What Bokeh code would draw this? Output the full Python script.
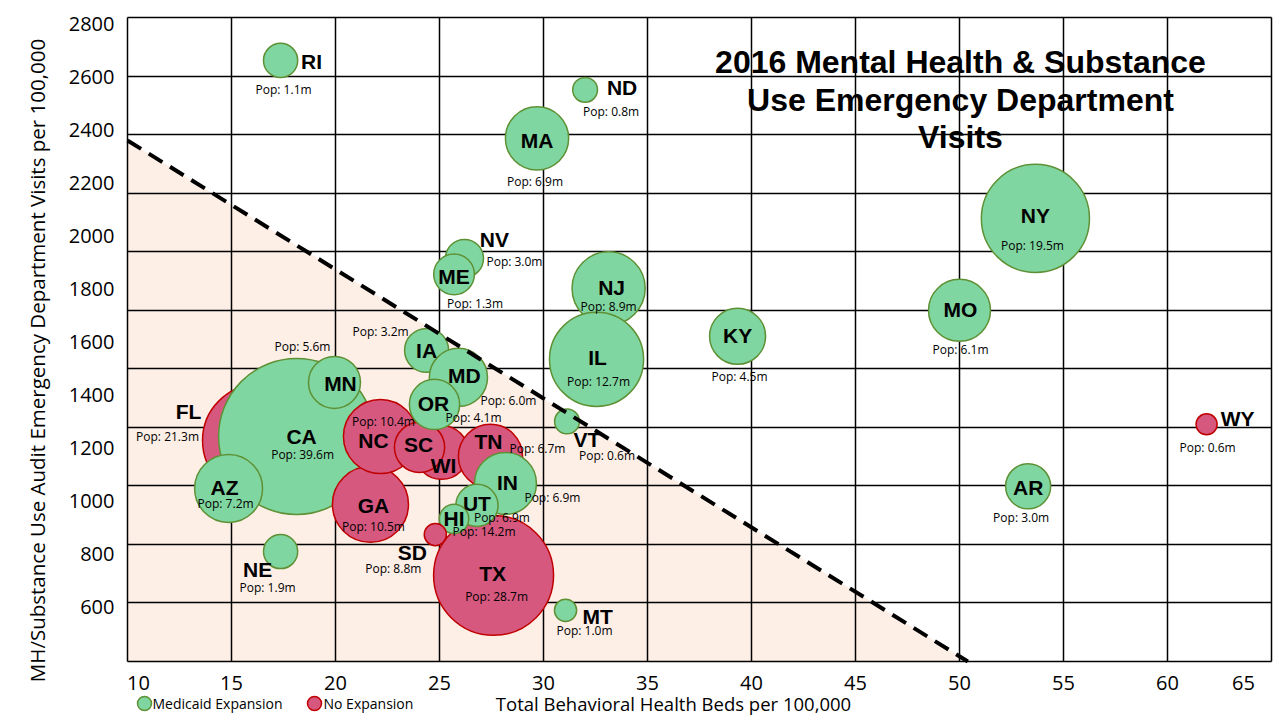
import math
from bokeh.plotting import figure
from bokeh.models import ColumnDataSource, Range1d, FixedTicker, Grid, Label
from bokeh.core.properties import value
from bokeh.embed import file_html
from bokeh.resources import INLINE

# ---------------- data ----------------
states = ["RI", "ND", "MA", "NY", "NV", "ME", "NJ", "IL", "MO", "KY", "VT", "WY",
          "AR", "MT", "NE", "FL", "CA", "MN", "AZ", "GA", "NC", "WI", "SC", "IA",
          "MD", "OR", "TX", "TN", "IN", "UT", "HI", "SD"]
beds = [17.36, 32.0, 29.69, 53.65, 26.2, 25.7, 33.13, 32.55, 50.0, 39.33, 31.13, 61.88,
        53.3, 31.06, 17.36, 16.3, 18.13, 19.95, 14.86, 21.68, 22.16, 25.1, 24.04, 24.38,
        25.91, 24.76, 27.6, 27.45, 28.17, 26.8, 25.7, 24.8]
visits = [2664, 2553, 2370, 2068, 1917, 1857, 1804, 1536, 1721, 1623, 1302, 1291,
          1057, 589, 811, 1230, 1245, 1449, 1049, 989, 1245, 1185, 1204, 1570,
          1468, 1366, 721, 1170, 1068, 985, 934, 875]
# population (millions) as shown by bubble area
bubble_pop = [1.9, 1.0, 6.5, 19.0, 2.35, 2.7, 8.7, 14.4, 6.25, 5.1, 1.0, 0.72,
              3.3, 0.8, 1.9, 20.4, 39.6, 4.4, 7.5, 9.4, 8.9, 4.7, 4.1, 3.15,
              5.5, 4.1, 23.4, 6.7, 6.25, 2.9, 1.4, 0.8]
expansion = [True, True, True, True, True, True, True, True, True, True, True, False,
             True, True, True, False, True, True, True, False, False, False, False, True,
             True, True, False, False, True, True, True, False]
pop_labels = ["Pop: 1.1m", "Pop: 0.8m", "Pop: 6.9m", "Pop: 19.5m", "Pop: 3.0m", "Pop: 1.3m",
              "Pop: 8.9m", "Pop: 12.7m", "Pop: 6.1m", "Pop: 4.5m", "Pop: 0.6m", "Pop: 0.6m",
              "Pop: 3.0m", "Pop: 1.0m", "Pop: 1.9m", "Pop: 21.3m", "Pop: 39.6m", "Pop: 5.6m",
              "Pop: 7.2m", "Pop: 10.5m", "Pop: 10.4m", "", "", "Pop: 3.2m",
              "Pop: 6.0m", "Pop: 4.1m", "Pop: 28.7m", "Pop: 6.7m", "Pop: 6.9m", "Pop: 6.9m",
              "Pop: 14.2m", "Pop: 8.8m"]

x_ticks = [10, 15, 20, 25, 30, 35, 40, 45, 50, 55, 60, 65]
y_ticks = [600, 800, 1000, 1200, 1400, 1600, 1800, 2000, 2200, 2400, 2600, 2800]
trend_x = [10, 50.4]
trend_y = [2362, 396]

title_lines = ["2016 Mental Health & Substance", "Use Emergency Department", "Visits"]
x_title = "Total Behavioral Health Beds per 100,000"
y_title = "MH/Substance Use Audit Emergency Department Visits per 100,000"
legend_labels = ["Medicaid Expansion", "No Expansion"]

# ---------------- layout / style ----------------
GREEN, GREEN_LINE = "#80d6a0", "#5e9135"
RED, RED_LINE = "#d6587f", "#c00000"
SHADE = "#fdeee6"
FONT = "Open Sans"
PX_PER_SQRT_M = 12.4  # bubble radius in px per sqrt(million)

W, H = 1280, 720
FRAME_LEFT = 120              # canvas px where the drawing frame starts
PLOT_LEFT, PLOT_RIGHT = 127, 1271
PLOT_TOP, PLOT_BOTTOM = 17, 661
x_lo, x_hi = x_ticks[0], x_ticks[-1]
y_lo, y_hi = 396, 2826        # value range of the plotted area (label scale)

kx = (x_hi - x_lo) / (PLOT_RIGHT - PLOT_LEFT)
ky = (y_hi - y_lo) / (PLOT_BOTTOM - PLOT_TOP)


def px_to_x(px):
    return x_lo + (px - PLOT_LEFT) * kx


def py_to_y(py, lo=y_lo, hi=y_hi):
    k = (hi - lo) / (PLOT_BOTTOM - PLOT_TOP)
    return hi - (py - PLOT_TOP) * k


# label offsets in px (state name, population text) relative to bubble centre
state_off = {"RI": (31, 1), "ND": (37, -2), "MA": (0, 2), "NY": (0, -3), "NV": (30, -19),
             "ME": (0, 2), "NJ": (3, -1), "IL": (1, -2), "MO": (1, -1), "KY": (0, -1),
             "VT": (20, 18), "WY": (31, -6), "AR": (0, 1), "MT": (32, 6), "NE": (-23, 18),
             "FL": (-70, -29), "CA": (5, 0), "MN": (6, 1), "AZ": (-4, -1), "GA": (3, 1),
             "NC": (-7, 4), "WI": (2, 13), "SC": (-1, -3), "IA": (0, 0), "MD": (6, -2),
             "OR": (-1, -1), "TX": (-1, -2), "TN": (-2, -15), "IN": (2, -1), "UT": (0, -2),
             "HI": (0, 0), "SD": (-23, 18)}
pop_off = {"RI": (3, 29), "ND": (26, 22), "MA": (-2, 43), "NY": (-3, 27), "NV": (50, 3),
           "ME": (21, 29), "NJ": (0, 18), "IL": (2, 22), "MO": (1, 39), "KY": (2, 40),
           "VT": (40, 34), "WY": (1, 23), "AR": (-7, 31), "MT": (19, 20), "NE": (-13, 36),
           "FL": (-91, -4), "CA": (6, 18), "MN": (-32, -36), "AZ": (-3, 15), "GA": (3, 22),
           "NC": (3, -15), "WI": (0, 0), "SC": (0, 0), "IA": (-46, -19), "MD": (50, 23),
           "OR": (39, 13), "TX": (3, 21), "TN": (47, -8), "IN": (47, 14), "UT": (25, 12),
           "HI": (30, 13), "SD": (-42, 34)}

src = ColumnDataSource(dict(
    x=beds, y=visits, state=states, pop=pop_labels,
    size=[2 * PX_PER_SQRT_M * math.sqrt(v) for v in bubble_pop],
    fill=[GREEN if e else RED for e in expansion],
    line=[GREEN_LINE if e else RED_LINE for e in expansion],
    sdx=[state_off[s][0] for s in states], sdy=[state_off[s][1] for s in states],
    pdx=[pop_off[s][0] for s in states], pdy=[pop_off[s][1] for s in states],
))

p = figure(width=W, height=H, output_backend="svg", toolbar_location=None,
           x_range=Range1d(px_to_x(FRAME_LEFT), px_to_x(W)),
           y_range=Range1d(py_to_y(H), py_to_y(0)),
           x_axis_location=None,
           min_border_left=FRAME_LEFT, min_border_right=0, min_border_top=0, min_border_bottom=0,
           background_fill_color="white", border_fill_color="white")
g_lo, g_hi = y_ticks[0], y_ticks[-1]
p.extra_y_ranges = {"grid": Range1d(py_to_y(H, g_lo, g_hi), py_to_y(0, g_lo, g_hi))}
p.outline_line_color = None

# shaded region under the trend line
p.varea(x=trend_x, y1=[y_lo, y_lo], y2=trend_y, fill_color=SHADE, level="image")

# grids (bounded to the plot area)
p.xgrid.ticker = FixedTicker(ticks=x_ticks)
p.xgrid.grid_line_color = "black"
p.xgrid.grid_line_width = 1.5
p.xgrid.cross_bounds = (y_lo, y_hi)
p.ygrid.visible = False
yg = Grid(dimension=1, ticker=FixedTicker(ticks=y_ticks), y_range_name="grid",
          cross_bounds=(x_lo, x_hi), grid_line_color="black", grid_line_width=1.5)
p.add_layout(yg)

# y axis (its line is drawn by the grid at x = 10)
ax = p.yaxis[0]
ax.ticker = FixedTicker(ticks=y_ticks)
ax.bounds = (py_to_y(H), py_to_y(8))
ax.major_tick_in = 0
ax.major_tick_out = 0
ax.minor_tick_line_color = None
ax.major_tick_line_color = None
ax.axis_line_color = None
ax.major_label_text_font = FONT
ax.major_label_text_font_size = "20px"
ax.major_label_text_color = "black"
ax.major_label_standoff = 6
ax.axis_label = y_title
ax.axis_label_text_font = FONT
ax.axis_label_text_font_style = "normal"
ax.axis_label_text_font_size = "20.5px"
ax.axis_label_text_color = "black"
ax.axis_label_standoff = 15

# bubbles
p.scatter("x", "y", source=src, size="size", fill_color="fill", line_color="line",
          line_width=1.5, fill_alpha=1.0)

# trend line
p.line(trend_x, trend_y, line_color="black", line_width=4, line_dash="16 9")

# bubble labels
p.text("x", "y", text="state", source=src, x_offset="sdx", y_offset="sdy",
       text_font=value("Liberation Sans"), text_font_style="bold", text_font_size="21px",
       text_align="center", text_baseline="middle", text_color="black")
p.text("x", "y", text="pop", source=src, x_offset="pdx", y_offset="pdy",
       text_font=value(FONT), text_font_size="12px",
       text_align="center", text_baseline="middle", text_color="black")

# x tick labels (edge labels pulled inward as in the reference)
xt_off = [11] + [0] * (len(x_ticks) - 2) + [-28]
p.text(x=x_ticks, y=[y_lo] * len(x_ticks), text=[str(t) for t in x_ticks],
       x_offset=xt_off, y_offset=21, text_font=value(FONT), text_font_size="20px",
       text_align="center", text_baseline="middle", text_color="black")

# x axis title
p.add_layout(Label(x=px_to_x(673), y=py_to_y(703), text=x_title, text_font=FONT,
                   text_font_size="18.5px", text_align="center", text_baseline="middle",
                   text_color="black"))

# chart title
for line, py in zip(title_lines, [61, 99, 136]):
    p.add_layout(Label(x=px_to_x(960), y=py_to_y(py), text=line, text_font="Liberation Sans",
                       text_font_style="bold", text_font_size="32px",
                       text_align="center", text_baseline="middle", text_color="black"))

# legend keys (bottom-left, beside the x axis title)
leg_y = py_to_y(703)
p.scatter(x=[px_to_x(144), px_to_x(314)], y=[leg_y, leg_y], size=14,
          fill_color=[GREEN, RED], line_color=[GREEN_LINE, RED_LINE], line_width=1.5)
p.text(x=[px_to_x(152), px_to_x(323)], y=[leg_y, leg_y], text=legend_labels,
       text_font=value(FONT), text_font_size="14px", text_align="left",
       text_baseline="middle", text_color="black")

open("out.html", "w").write(file_html(p, INLINE))
